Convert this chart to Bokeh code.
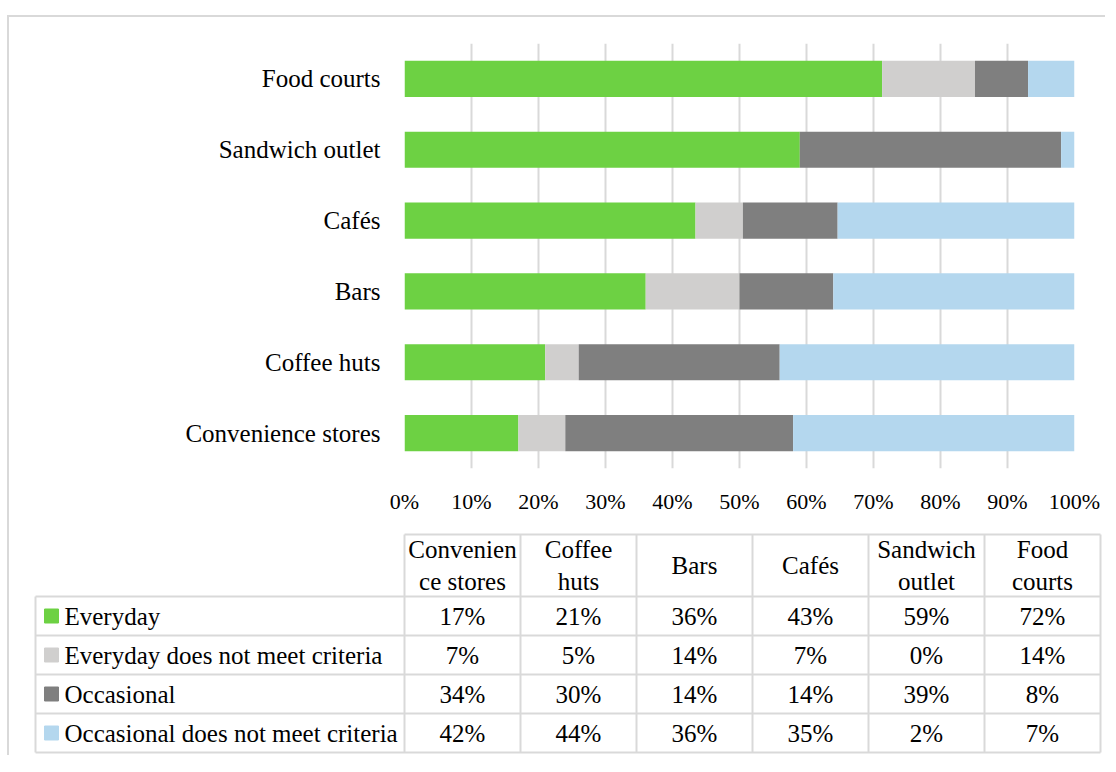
from bokeh.plotting import figure
from bokeh.models import FactorRange, Range1d, FixedTicker, PrintfTickFormatter, ColumnDataSource
from bokeh.layouts import column
from bokeh.embed import file_html
from bokeh.resources import INLINE
from bokeh.core.properties import value

# ---- data ----
categories = ["Convenience stores", "Coffee huts", "Bars", "Cafés", "Sandwich outlet", "Food courts"]
header_labels = ["Convenien\nce stores", "Coffee\nhuts", "Bars", "Cafés", "Sandwich\noutlet", "Food\ncourts"]
series = ["Everyday", "Everyday does not meet criteria", "Occasional", "Occasional does not meet criteria"]
everyday = [17, 21, 36, 43, 59, 72]
everyday_nm = [7, 5, 14, 7, 0, 14]
occasional = [34, 30, 14, 14, 39, 8]
occasional_nm = [42, 44, 36, 35, 2, 7]
x_ticks = [0, 10, 20, 30, 40, 50, 60, 70, 80, 90, 100]

# ---- style ----
colors = ["#6dd143", "#d0cfce", "#7f7f7f", "#b4d7ee"]
FONT = "Liberation Serif"
GRID = "#d9d9d9"
TXT = "#000000"

values = [everyday, everyday_nm, occasional, occasional_nm]
totals = [sum(v[i] for v in values) for i in range(len(categories))]
src = ColumnDataSource(dict(
    cat=categories,
    s0=[v / t * 100 for v, t in zip(everyday, totals)],
    s1=[v / t * 100 for v, t in zip(everyday_nm, totals)],
    s2=[v / t * 100 for v, t in zip(occasional, totals)],
    s3=[v / t * 100 for v, t in zip(occasional_nm, totals)],
))

W = 1096

# ---- bar chart ----
pA = figure(width=W, height=513, y_range=FactorRange(factors=categories),
            x_range=Range1d(0, 100), output_backend="svg", toolbar_location=None,
            min_border_left=395, min_border_right=W - 395 - 670, min_border_top=26,
            min_border_bottom=62, frame_align=False)
pA.hbar_stack(["s0", "s1", "s2", "s3"], y="cat", height=0.51, color=colors, source=src, line_color=None)

pA.outline_line_color = None
pA.ygrid.grid_line_color = None
pA.xgrid.ticker = FixedTicker(ticks=x_ticks)
pA.xgrid.grid_line_color = GRID
pA.xgrid.grid_line_width = 2
pA.xaxis.ticker = FixedTicker(ticks=x_ticks)
pA.xaxis.formatter = PrintfTickFormatter(format="%d%%")
for ax in (pA.xaxis, pA.yaxis):
    ax.axis_line_color = None
    ax.major_tick_line_color = None
    ax.minor_tick_line_color = None
    ax.major_tick_out = 0
    ax.major_label_text_font = FONT
    ax.major_label_text_color = TXT
pA.xaxis.major_label_text_font_size = "22px"
pA.xaxis.major_label_standoff = 20
pA.yaxis.major_label_text_font_size = "25px"
pA.yaxis.major_label_standoff = 24

# ---- data table ----
X0, CW, NC = 405, 116, len(categories)
LEFT = 36
HTOP, HBOT, RH = 534, 596, 39
row_lines = [HBOT + RH * i for i in range(len(series) + 1)]
row_centers = [HBOT + RH * i + RH / 2 for i in range(len(series))]
col_lines = [X0 + CW * i for i in range(NC + 1)]
col_centers = [X0 + CW * i + CW / 2 for i in range(NC)]
XR = col_lines[-1]

pB = figure(width=W, height=225, x_range=Range1d(10, 10 + W), y_range=Range1d(755, 530),
            output_backend="svg", toolbar_location=None, min_border=0,
            x_axis_type=None, y_axis_type=None, frame_align=False)
pB.grid.visible = False
pB.outline_line_color = None

sx0, sy0, sx1, sy1 = [], [], [], []
sx0.append(X0); sy0.append(HTOP); sx1.append(XR); sy1.append(HTOP)
for y in row_lines:
    sx0.append(LEFT); sy0.append(y); sx1.append(XR); sy1.append(y)
sx0.append(LEFT); sy0.append(HBOT); sx1.append(LEFT); sy1.append(row_lines[-1])
for x in col_lines:
    sx0.append(x); sy0.append(HTOP); sx1.append(x); sy1.append(row_lines[-1])
pB.segment(sx0, sy0, sx1, sy1, line_color=GRID, line_width=2)

pB.text(x=col_centers, y=[(HTOP + HBOT) / 2] * NC, text=header_labels,
        text_font=value(FONT), text_font_size=value("25px"), text_color=TXT,
        text_align="center", text_baseline="middle", text_line_height=1.2)

pB.rect(x=[52] * len(series), y=row_centers, width=14, height=14, color=colors)
pB.text(x=[65] * len(series), y=row_centers, text=series,
        text_font=value(FONT), text_font_size=value("25px"), text_color=TXT,
        text_align="left", text_baseline="middle")

cx, cy, ct = [], [], []
for r, vals in enumerate(values):
    for c, v in enumerate(vals):
        cx.append(col_centers[c]); cy.append(row_centers[r]); ct.append(f"{v}%")
pB.text(x=cx, y=cy, text=ct, text_font=value(FONT), text_font_size=value("25px"),
        text_color=TXT, text_align="center", text_baseline="middle")

layout = column(pA, pB, styles={"margin-top": "15px", "margin-left": "7px",
                                 "border-top": "2px solid #d9d9d9",
                                 "border-left": "2px solid #d9d9d9"})
open("out.html", "w").write(file_html(layout, INLINE))
